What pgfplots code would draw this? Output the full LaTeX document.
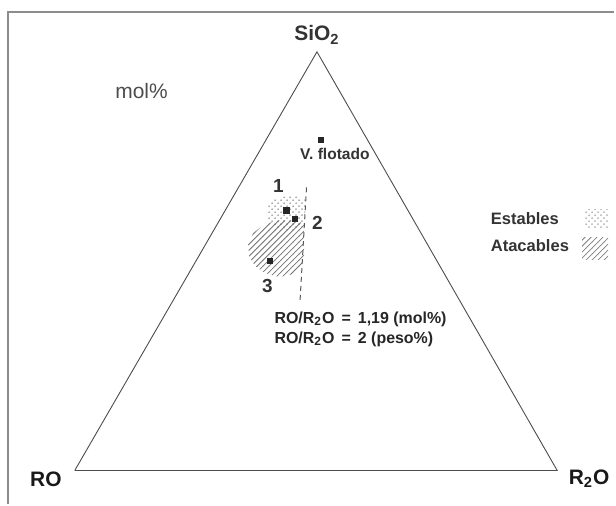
\documentclass[border=0pt]{standalone}
\usepackage{fontspec}
\setmainfont{Liberation Sans}
\usepackage{pgfplots}
\pgfplotsset{compat=1.18}
\usetikzlibrary{patterns}
\begin{document}
\begin{tikzpicture}
\begin{axis}[
  scale only axis, width=308pt, height=253pt,
  xmin=0, xmax=616, ymin=0, ymax=506, y dir=reverse,
  hide axis, clip=false,
]
% bounding box and frame
\path (axis cs:0,0) rectangle (axis cs:616,506);
\addplot[black!45, line width=0.9pt] coordinates {(8,506) (8,12) (616,12)};
% triangle
\addplot[black!70, line width=0.45pt] coordinates {(75,472) (559,472) (318,52) (75,472)};
% regions
\addplot[draw=none, pattern=crosshatch dots, pattern color=black!35] coordinates {
 (306,200) (298,197) (286,197) (276,200) (269,206) (267,214) (270,222) (276,228) (288,231) (300,230) (306,226) (306,200)};
\addplot[draw=none, pattern=north east lines, pattern color=black!55] coordinates {
 (305,224) (293,221) (278,221) (264,226) (254,234) (249,245) (250,257) (256,267) (266,274) (280,278) (294,275) (302,268) (305,258) (305,224)};
% legend swatches
\addplot[draw=none, pattern=crosshatch dots, pattern color=black!30] coordinates {(587,210) (610,210) (610,228) (587,228) (587,210)};
\addplot[draw=none, pattern=north east lines, pattern color=black!50] coordinates {(584,238) (610,238) (610,260) (584,260) (584,238)};
% dashed ratio line
\addplot[black!65, line width=0.5pt, dash pattern=on 2.5pt off 2pt] coordinates {(307.5,188) (301,302)};
% sample points
\addplot[only marks, mark=square*, mark size=1.3pt, black!85] coordinates {
 (322,140) (287.3,211) (296,220) (270.7,261.7)};
% labels
\node[font=\fontsize{10.5}{12}\selectfont\bfseries, text=black!80] at (axis cs:318,35) {SiO\textsubscript{2}};
\node[font=\fontsize{10.5}{12}\selectfont\bfseries, text=black!90] at (axis cs:46,481) {RO};
\node[font=\fontsize{10.5}{12}\selectfont\bfseries, text=black!90] at (axis cs:591,480) {R\textsubscript{2}O};
\node[font=\fontsize{10.5}{12}\selectfont, text=black!70] at (axis cs:142,91) {mol\%};
\node[font=\fontsize{7.8}{9}\selectfont\bfseries, text=black!80] at (axis cs:336,154) {V. flotado};
\node[font=\fontsize{9.5}{11}\selectfont\bfseries, text=black!80] at (axis cs:279.3,186.7) {1};
\node[font=\fontsize{9.5}{11}\selectfont\bfseries, text=black!80] at (axis cs:318.3,223.3) {2};
\node[font=\fontsize{9.5}{11}\selectfont\bfseries, text=black!80] at (axis cs:268.3,286.7) {3};
\node[font=\fontsize{8.3}{10}\selectfont\bfseries, text=black!80, anchor=west, inner sep=0pt] at (axis cs:492,219) {Estables};
\node[font=\fontsize{8.3}{10}\selectfont\bfseries, text=black!80, anchor=west, inner sep=0pt] at (axis cs:492,246) {Atacables};
\node[font=\fontsize{8}{10}\selectfont\bfseries, text=black!85, anchor=west, inner sep=0pt] at (axis cs:275,320) {RO/R\textsubscript{2}O \,=\, 1,19 (mol\%)};
\node[font=\fontsize{8}{10}\selectfont\bfseries, text=black!85, anchor=west, inner sep=0pt] at (axis cs:275,340) {RO/R\textsubscript{2}O \,=\, 2 (peso\%)};
\end{axis}
\end{tikzpicture}
\end{document}
